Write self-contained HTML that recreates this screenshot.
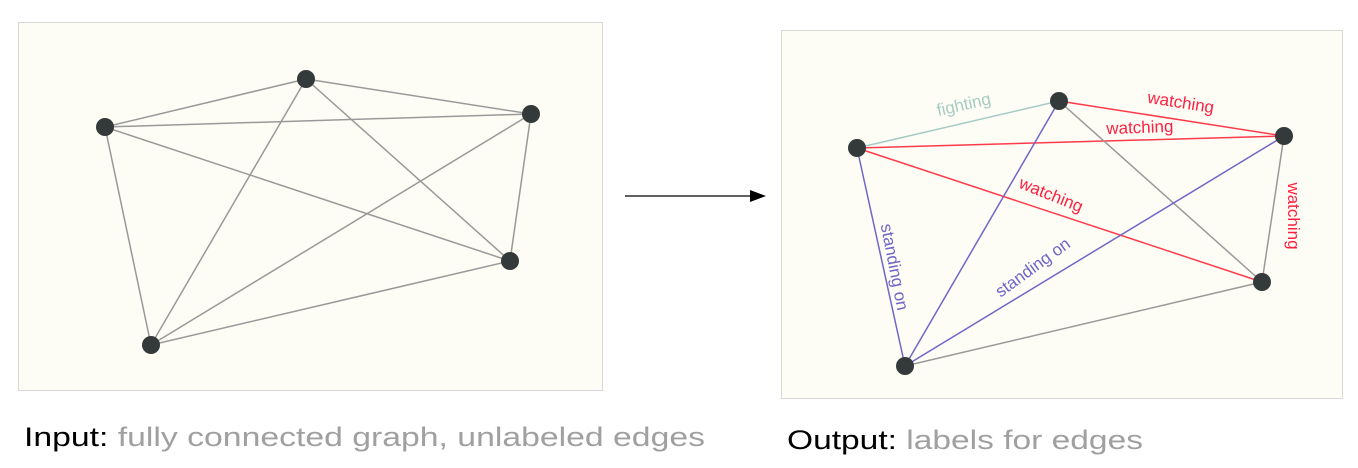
<!DOCTYPE html>
<html><head><meta charset="utf-8"><style>body{margin:0;background:#fff}svg{display:block}</style></head><body>
<svg width="1358" height="468" xmlns="http://www.w3.org/2000/svg" font-family="Liberation Sans, sans-serif">
<rect x="18.5" y="22.5" width="584" height="368" fill="#fdfdf6" stroke="#d8d8d8"/>
<g stroke="#999" stroke-width="1.5">
<line x1="105" y1="127" x2="306" y2="79"/><line x1="105" y1="127" x2="531" y2="114"/><line x1="105" y1="127" x2="510" y2="261"/><line x1="105" y1="127" x2="151" y2="345"/>
<line x1="306" y1="79" x2="531" y2="114"/><line x1="306" y1="79" x2="510" y2="261"/><line x1="306" y1="79" x2="151" y2="345"/>
<line x1="531" y1="114" x2="510" y2="261"/><line x1="531" y1="114" x2="151" y2="345"/><line x1="510" y1="261" x2="151" y2="345"/>
</g>
<g fill="#343a3a"><circle cx="105" cy="127" r="9"/><circle cx="306" cy="79" r="9"/><circle cx="531" cy="114" r="9"/><circle cx="510" cy="261" r="9"/><circle cx="151" cy="345" r="9"/></g>
<line x1="625" y1="196" x2="752" y2="196" stroke="#000" stroke-width="1.2"/>
<polygon points="766,196 750,190 750,202" fill="#000"/>
<rect x="781.5" y="30.5" width="561" height="368" fill="#fdfdf6" stroke="#d8d8d8"/>
<g stroke-width="1.5">
<line x1="857" y1="148" x2="1059" y2="101" stroke="#a6cbc4"/>
<line x1="1059" y1="101" x2="1284" y2="136" stroke="#ff3b4a"/>
<line x1="857" y1="148" x2="1284" y2="136" stroke="#ff3b4a"/>
<line x1="857" y1="148" x2="1262" y2="282" stroke="#ff3b4a"/>
<line x1="1284" y1="136" x2="1262" y2="282" stroke="#999"/>
<line x1="1059" y1="101" x2="1262" y2="282" stroke="#999"/>
<line x1="1262" y1="282" x2="905" y2="366" stroke="#999"/>
<line x1="857" y1="148" x2="905" y2="366" stroke="#6f66c8"/>
<line x1="1059" y1="101" x2="905" y2="366" stroke="#6f66c8"/>
<line x1="1284" y1="136" x2="905" y2="366" stroke="#6f66c8"/>
</g>
<g fill="#343a3a"><circle cx="857" cy="148" r="9"/><circle cx="1059" cy="101" r="9"/><circle cx="1284" cy="136" r="9"/><circle cx="1262" cy="282" r="9"/><circle cx="905" cy="366" r="9"/></g>
<g font-size="17" text-anchor="middle">
<text transform="translate(965,110) rotate(-13)" fill="#a6cbc4">fighting</text>
<text transform="translate(1180,108) rotate(9)" fill="#ff2040">watching</text>
<text transform="translate(1140,133) rotate(-2)" fill="#ff2040">watching</text>
<text transform="translate(1049,200) rotate(22)" fill="#ff2040">watching</text>
<text transform="translate(1288,216) rotate(90)" fill="#ff2040">watching</text>
<text transform="translate(889,268) rotate(79)" fill="#6f66c8">standing on</text>
<text transform="translate(1036,272) rotate(-36)" fill="#6f66c8">standing on</text>
</g>
<text x="24" y="446" font-size="27" textLength="681" lengthAdjust="spacingAndGlyphs"><tspan fill="#000">Input:</tspan><tspan fill="#a0a0a0"> fully connected graph, unlabeled edges</tspan></text>
<text x="787" y="449" font-size="27" textLength="356" lengthAdjust="spacingAndGlyphs"><tspan fill="#000">Output:</tspan><tspan fill="#a0a0a0"> labels for edges</tspan></text>
</svg>
</body></html>
